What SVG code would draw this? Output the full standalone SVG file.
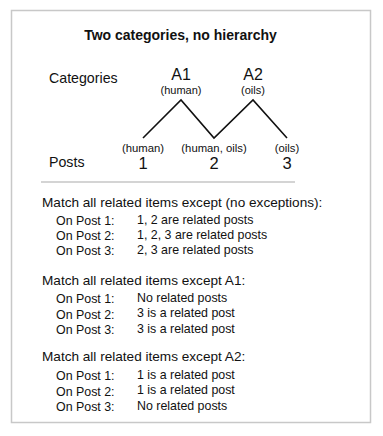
<svg xmlns="http://www.w3.org/2000/svg" width="383" height="436" viewBox="0 0 383 436">
<style>
text{font-family:"Liberation Sans",Arial,sans-serif;fill:#111}
.t{font-size:14px;font-weight:bold;text-anchor:middle}
.lbl{font-size:14.2px}
.cat{font-size:16.5px;text-anchor:middle}
.top{font-size:16px;text-anchor:middle}
.sub{font-size:11.3px;text-anchor:middle}
.sub2{font-size:11px;text-anchor:middle}
.h{font-size:13.6px}
.r{font-size:12.4px}
.edge{fill:none;stroke:#111;stroke-width:1.6}
</style>
<rect x="11.5" y="10.5" width="359" height="412" fill="#fff" stroke="#c8c8c8" stroke-width="1.5"/>
<text class="t" x="180.5" y="39.5">Two categories, no hierarchy</text>
<g id="row-labels">
<text class="lbl" x="49" y="83">Categories</text>
<text class="lbl" x="49" y="166.5">Posts</text>
</g>
<g id="connectors">
<path class="edge" d="M143,138 L181,100 L214,138 L253,100 L287,138"/>
</g>
<g id="A1"><text class="top" x="181" y="80">A1</text><text class="sub2" x="181" y="93.5">(human)</text></g>
<g id="A2"><text class="top" x="253" y="80">A2</text><text class="sub2" x="253" y="93.5">(oils)</text></g>
<g id="post1"><text class="sub" x="143" y="152">(human)</text><text class="cat" x="143" y="169">1</text></g>
<g id="post2"><text class="sub" x="214" y="152">(human, oils)</text><text class="cat" x="214" y="169">2</text></g>
<g id="post3"><text class="sub" x="287" y="152">(oils)</text><text class="cat" x="287" y="169">3</text></g>
<line x1="41" y1="182" x2="295" y2="182" stroke="#d4d4d4" stroke-width="2"/>
<g id="section1">
<text class="h" x="42" y="207">Match all related items except (no exceptions):</text>
<text class="r" x="56" y="225">On Post 1:</text><text class="r" x="137" y="223.5">1, 2 are related posts</text>
<text class="r" x="56" y="240">On Post 2:</text><text class="r" x="137" y="238.5">1, 2, 3 are related posts</text>
<text class="r" x="56" y="255">On Post 3:</text><text class="r" x="137" y="253.5">2, 3 are related posts</text>
</g>
<g id="section2">
<text class="h" x="42" y="285">Match all related items except A1:</text>
<text class="r" x="56" y="303">On Post 1:</text><text class="r" x="137" y="301.5">No related posts</text>
<text class="r" x="56" y="318.5">On Post 2:</text><text class="r" x="137" y="317">3 is a related post</text>
<text class="r" x="56" y="334">On Post 3:</text><text class="r" x="137" y="332.5">3 is a related post</text>
</g>
<g id="section3">
<text class="h" x="42" y="361">Match all related items except A2:</text>
<text class="r" x="56" y="380">On Post 1:</text><text class="r" x="137" y="378.5">1 is a related post</text>
<text class="r" x="56" y="395.5">On Post 2:</text><text class="r" x="137" y="394">1 is a related post</text>
<text class="r" x="56" y="411">On Post 3:</text><text class="r" x="137" y="409.5">No related posts</text>
</g>
</svg>
